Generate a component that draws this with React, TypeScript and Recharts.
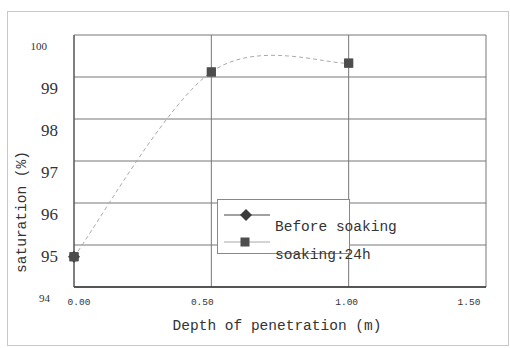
import React from 'react';
import { LineChart, Line, XAxis, YAxis, CartesianGrid, Legend } from 'recharts';

const DEPTH = [0, 0.5, 1.0];
const SOAKING_24H = [94.72, 99.12, 99.33];
const BEFORE_SOAKING = [94.72, null, null];
const X_TICKS = [0, 0.5, 1.0, 1.5];
const Y_TICKS = [94, 95, 96, 97, 98, 99, 100];

const data = DEPTH.map((d, i) => ({ depth: d, soaking: SOAKING_24H[i], before: BEFORE_SOAKING[i] }));

const MONO = '"Liberation Mono", "DejaVu Sans Mono", monospace';
const SERIF = '"Liberation Serif", "DejaVu Serif", serif';

// spreadsheet-style smoothed line (Catmull-Rom as cubic Bezier)
const smoothCurve = (context: any) => {
  let pts: number[][] = [];
  return {
    areaStart() {},
    areaEnd() {},
    lineStart() { pts = []; },
    point(x: number, y: number) { pts.push([+x, +y]); },
    lineEnd() {
      if (!pts.length) return;
      context.moveTo(pts[0][0], pts[0][1]);
      for (let i = 0; i < pts.length - 1; i++) {
        const p0 = pts[i - 1] || pts[i];
        const p1 = pts[i];
        const p2 = pts[i + 1];
        const p3 = pts[i + 2] || pts[i + 1];
        context.bezierCurveTo(
          p1[0] + (p2[0] - p0[0]) / 6, p1[1] + (p2[1] - p0[1]) / 6,
          p2[0] - (p3[0] - p1[0]) / 6, p2[1] - (p3[1] - p1[1]) / 6,
          p2[0], p2[1],
        );
      }
    },
  };
};

const SquareDot = (props: any) => {
  const { cx, cy } = props;
  if (cx == null || cy == null) return null;
  return <rect x={cx - 4.5} y={cy - 4.5} width={9} height={9} fill="#4d4d4d" />;
};

const DiamondDot = (props: any) => {
  const { cx, cy } = props;
  if (cx == null || cy == null) return null;
  return <path d={`M${cx},${cy - 6} L${cx + 6},${cy} L${cx},${cy + 6} L${cx - 6},${cy} Z`} fill="#3a3a3a" />;
};

const YTick = (props: any) => {
  const { x, y, payload } = props;
  const v = payload.value;
  const small = v === 100 || v === 94;
  const dx = v === 100 ? -27 : v === 94 ? -24 : -16;
  return (
    <text x={x + dx} y={y + 11} textAnchor="end" dominantBaseline="central"
      fontFamily={SERIF} fontSize={small ? 11 : 17} fill="#333">
      {v}
    </text>
  );
};

const X_SHIFT = [5, -9, -2, -17];
const XTick = (props: any) => {
  const { x, y, payload, index } = props;
  return (
    <text x={x + (X_SHIFT[index] ?? 0)} y={y + 15} textAnchor="middle" dominantBaseline="central"
      fontFamily={MONO} fontSize={9.5} fill="#333">
      {Number(payload.value).toFixed(2)}
    </text>
  );
};

const LegendBox = () => (
  <svg width={200} height={70} style={{ overflow: 'visible', display: 'block' }}>
    <rect x={0.5} y={0.5} width={132} height={54} fill="#fff" stroke="#888" />
    <line x1={7} y1={16} x2={53} y2={16} stroke="#444" />
    <path d="M29,10 L35,16 L29,22 L23,16 Z" fill="#3a3a3a" />
    <line x1={7} y1={43} x2={53} y2={43} stroke="#aaa" />
    <rect x={23.5} y={38.5} width={9} height={9} fill="#4d4d4d" />
    <text x={58} y={28} dominantBaseline="central" fontFamily={MONO} fontSize={14.5} fill="#333">Before soaking</text>
    <text x={58} y={56} dominantBaseline="central" fontFamily={MONO} fontSize={14.5} fill="#333">soaking:24h</text>
  </svg>
);

export default function App() {
  return (
    <div style={{ position: 'absolute', left: 0, top: 0, width: 510, height: 348, background: '#fff' }}>
      <div style={{ position: 'absolute', left: 7, top: 11, width: 500, height: 333, border: '1px solid #c8c8c8' }} />
      <div style={{ position: 'absolute', left: 0, top: 0 }}>
        <LineChart width={510} height={348} data={data} margin={{ top: 35, right: 24, left: 0, bottom: 0 }}>
          <CartesianGrid stroke="#777" vertical horizontal />
          <XAxis dataKey="depth" type="number" domain={[0, 1.5]} ticks={X_TICKS} height={61}
            tickLine={false} tickSize={0} tickMargin={0} axisLine={{ stroke: '#333', strokeWidth: 1.5 }}
            tick={<XTick />}
            label={{
              content: () => (
                <text x={277} y={326} textAnchor="middle" dominantBaseline="central"
                  fontFamily={MONO} fontSize={14.5} fill="#333">Depth of penetration (m)</text>
              ),
            }}
          />
          <YAxis type="number" domain={[94, 100]} ticks={Y_TICKS} width={74}
            tickLine={false} tickSize={0} tickMargin={0} axisLine={{ stroke: '#444' }}
            tick={<YTick />}
            label={{
              content: () => (
                <text x={22} y={212} textAnchor="middle" dominantBaseline="central"
                  transform="rotate(-90 22 212)" fontFamily={MONO} fontSize={14.5} fill="#333">saturation (%)</text>
              ),
            }}
          />
          <Legend layout="horizontal" verticalAlign="middle" align="center"
            wrapperStyle={{ left: 217, top: 199, width: 200, height: 70 }}
            content={() => <LegendBox />} />
          <Line dataKey="soaking" type={smoothCurve as any} stroke="#aaa" strokeDasharray="4 3" strokeWidth={1}
            dot={<SquareDot />} isAnimationActive={false} legendType="square" />
          <Line dataKey="before" type="linear" stroke="#444" dot={<DiamondDot />}
            isAnimationActive={false} legendType="diamond" connectNulls={false} />
          <Line dataKey="soaking" type="linear" stroke="none" dot={<SquareDot />}
            isAnimationActive={false} legendType="none" />
        </LineChart>
      </div>
    </div>
  );
}
